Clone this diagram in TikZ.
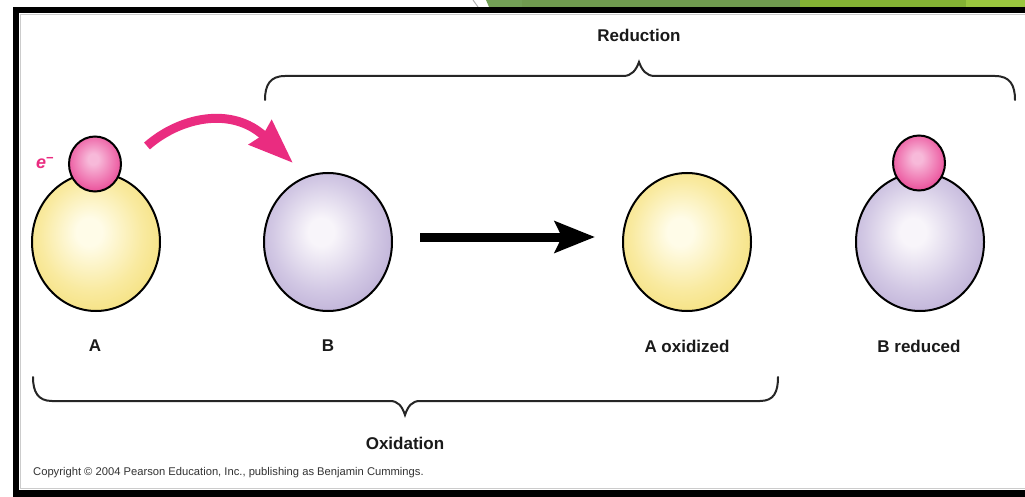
\documentclass[tikz,border=0pt]{standalone}
\usepackage{fontspec}
\setmainfont{Liberation Sans}
\usetikzlibrary{shapes.geometric,arrows.meta}
\definecolor{ylight}{HTML}{FFFCE8}
\definecolor{ymid}{HTML}{F9EAA0}
\definecolor{yedge}{HTML}{F3DC6E}
\definecolor{ydark}{HTML}{EDD25E}
\definecolor{plight}{HTML}{F8F5FA}
\definecolor{pmid}{HTML}{D2C8E4}
\definecolor{pedge}{HTML}{B4A5D1}
\definecolor{pdark}{HTML}{A291C4}
\definecolor{klight}{HTML}{F7B9D9}
\definecolor{kmid}{HTML}{EE6AAA}
\definecolor{kedge}{HTML}{E2267E}
\definecolor{kdark}{HTML}{D81C72}
\definecolor{arrowpink}{HTML}{EA2C80}
\definecolor{gdark}{HTML}{6F9A4F}
\definecolor{gdark2}{HTML}{73A056}
\definecolor{gmid}{HTML}{84B234}
\definecolor{glight}{HTML}{9BC73F}
\definecolor{labelc}{HTML}{1A1A1A}
\pgfdeclareradialshading{yball}{\pgfpoint{-3bp}{4bp}}{color(0bp)=(ylight); color(5bp)=(ylight); color(20bp)=(ymid); color(34bp)=(yedge); color(50bp)=(ydark)}
\pgfdeclareradialshading{pball}{\pgfpoint{-3bp}{4bp}}{color(0bp)=(plight); color(5bp)=(plight); color(20bp)=(pmid); color(34bp)=(pedge); color(50bp)=(pdark)}
\pgfdeclareradialshading{kball}{\pgfpoint{-2bp}{5bp}}{color(0bp)=(klight); color(5bp)=(klight); color(22bp)=(kmid); color(36bp)=(kedge); color(50bp)=(kdark)}
\tikzset{
  bigball/.style={ellipse, draw=black, line width=2pt, minimum width=128pt, minimum height=138pt, inner sep=0pt},
  yellowball/.style={bigball, shading=yball},
  purpleball/.style={bigball, shading=pball},
  electron/.style={ellipse, draw=black, line width=2pt, minimum width=52pt, minimum height=55pt, inner sep=0pt, shading=kball},
  lbl/.style={font=\bfseries\fontsize{17}{17}\selectfont, text=labelc, inner sep=0pt},
  bracec/.style={draw=black!85, line width=2pt, line cap=round},
  framebar/.style={fill=black},
}
\begin{document}
\begin{tikzpicture}[x=1pt,y=-1pt]
\useasboundingbox (0,0) rectangle (1025,497);
\fill[white] (0,0) rectangle (1025,497);
% top green bar
\draw[gray!60, line width=1pt] (473,0) -- (478,7);
\fill[gdark2] (486,0) -- (522,0) -- (522,7) -- (489,7) -- cycle;
\fill[gdark] (522,0) rectangle (800,7);
\fill[gmid] (800,0) rectangle (966,7);
\fill[glight] (966,0) rectangle (1025,7);
% frame
\fill[framebar] (13,7) rectangle (1025,13);
\fill[framebar] (13,7) rectangle (19,497);
\fill[framebar] (13,490) rectangle (1025,497);
\draw[gray!40, line width=1pt] (20,14.5) -- (1025,14.5);
\draw[gray!40, line width=1pt] (20,14.5) -- (20,489);
\draw[gray!40, line width=1pt] (20,488.5) -- (1025,488.5);
% balls
\node[yellowball] (A) at (96,242) {};
\node[electron] (eA) at (95,164) {};
\node[purpleball] (B) at (328,242) {};
\node[yellowball] (Aox) at (687,242) {};
\node[purpleball] (Bred) at (920,242) {};
\node[electron] (eB) at (919,163) {};
% electron label
\node[text=arrowpink, inner sep=0pt, font=\fontsize{18}{18}\selectfont] (elbl) at (45,163) {\textbf{\textit{e}}\raisebox{6pt}{\bfseries\fontsize{13}{13}\selectfont −}};
% pink transfer arrow
\coordinate (pS) at (147,146);
\coordinate (pE) at (293,163);
\draw[arrowpink, line width=9pt, -{Stealth[length=44pt,width=32pt,inset=3pt]}] (pS) .. controls (180,117) and (232,106) .. (pE);
% black reaction arrow
\coordinate (rS) at (420,237);
\coordinate (rE) at (595,237);
\draw[black, line width=9pt, -{Stealth[length=40pt,width=31pt,inset=7pt]}] (rS) -- (rE);
% labels
\node[lbl] (tA) at (95,346) {A};
\node[lbl] (tB) at (328,346) {B};
\node[lbl] (tAox) at (687,346) {A oxidized};
\node[lbl] (tBred) at (919,346) {B reduced};
\node[lbl] (tRed) at (639,35) {Reduction};
\node[lbl] (tOx) at (405,443) {Oxidation};
% braces
\draw[bracec] (265,100) .. controls (265,85) and (270,76) .. (285,76) -- (623,76) .. controls (632,76) and (636,70) .. (639,62) .. controls (642,70) and (646,76) .. (655,76) -- (995,76) .. controls (1010,76) and (1015,85) .. (1015,100);
\draw[bracec] (33,377) .. controls (33,392) and (38,401) .. (52,401) -- (390,401) .. controls (398,401) and (402,406) .. (405,415) .. controls (408,406) and (412,401) .. (420,401) -- (760,401) .. controls (774,401) and (778,392) .. (778,377);
% copyright
\node[anchor=west, inner sep=0pt, text=black!80, font=\fontsize{11.2}{11.2}\selectfont] (copy) at (33,473) {Copyright © 2004 Pearson Education, Inc., publishing as Benjamin Cummings.};
\end{tikzpicture}
\end{document}
